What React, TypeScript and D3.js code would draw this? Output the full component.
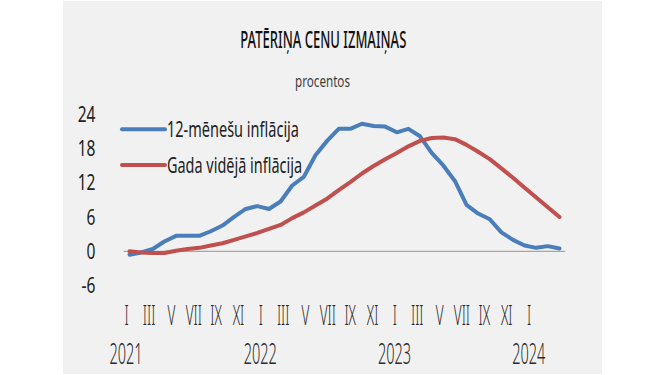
import React from 'react';
import * as d3 from 'd3';

const title = 'PATĒRIŅA CENU IZMAIŅAS';
const subtitle = 'procentos';
const seriesNames = ['12-mēnešu inflācija', 'Gada vidējā inflācija'];

const periods = [
  '2021-01', '2021-02', '2021-03', '2021-04', '2021-05', '2021-06', '2021-07', '2021-08', '2021-09', '2021-10', '2021-11', '2021-12',
  '2022-01', '2022-02', '2022-03', '2022-04', '2022-05', '2022-06', '2022-07', '2022-08', '2022-09', '2022-10', '2022-11', '2022-12',
  '2023-01', '2023-02', '2023-03', '2023-04', '2023-05', '2023-06', '2023-07', '2023-08', '2023-09', '2023-10', '2023-11', '2023-12',
  '2024-01', '2024-02',
];

const inflation12m = [
  -0.6, -0.2, 0.4, 1.7, 2.7, 2.7, 2.7, 3.5, 4.5, 6.0, 7.4, 7.9,
  7.4, 8.7, 11.5, 13.0, 16.8, 19.3, 21.4, 21.4, 22.3, 21.9, 21.8, 20.8,
  21.4, 20.1, 17.2, 15.0, 12.3, 8.1, 6.6, 5.6, 3.3, 2.0, 1.0, 0.6,
  0.9, 0.5,
];

const annualAverage = [
  0.0, -0.2, -0.3, -0.3, 0.1, 0.4, 0.6, 1.0, 1.4, 2.0, 2.6, 3.2,
  3.9, 4.6, 5.8, 6.8, 8.0, 9.2, 10.7, 12.1, 13.6, 14.9, 16.1, 17.2,
  18.35, 19.3, 19.8, 19.9, 19.6, 18.6, 17.4, 16.1, 14.5, 12.85, 11.1, 9.4,
  7.7, 6.0,
];

const yTicks = [-6, 0, 6, 12, 18, 24];
const monthLabels = [
  'I', 'III', 'V', 'VII', 'IX', 'XI',
  'I', 'III', 'V', 'VII', 'IX', 'XI',
  'I', 'III', 'V', 'VII', 'IX', 'XI',
  'I',
];
const yearLabels = ['2021', '2022', '2023', '2024'];

const BLUE = '#4a7ebb';
const RED = '#c0504d';
const FONT = "'Noto Sans', 'DejaVu Sans', sans-serif";

export default function App() {
  const W = 665;
  const H = 375;

  const x = d3.scaleBand<string>().domain(periods).range([123.7, 565.3]).padding(0);
  const cx = (p: string) => (x(p) as number) + x.bandwidth() / 2;
  const y = d3.scaleLinear().domain([-6, 24]).range([285.6, 114]);

  const labelScale = d3.scalePoint<number>()
    .domain(monthLabels.map((_, i) => i))
    .range([126.7, 529]);
  const yearScale = d3.scalePoint<string>().domain(yearLabels).range([126, 528.8]);

  const line = d3.line<number>()
    .x((_, i) => cx(periods[i]))
    .y((v) => y(v));

  const series = [
    { name: seriesNames[0], values: inflation12m, color: BLUE },
    { name: seriesNames[1], values: annualAverage, color: RED },
  ];

  return (
    <svg
      width={W}
      height={H}
      viewBox={`0 0 ${W} ${H}`}
      style={{ position: 'absolute', left: 0, top: 0, display: 'block' }}
      fontFamily={FONT}
    >
      <rect x={0} y={0} width={W} height={H} fill="#ffffff" />
      <rect x={63} y={1} width={539} height={373} fill="#f1f1f1" />

      <text x={323.3} y={48.3} textAnchor="middle" fontSize={23} fontWeight={500} fill="#111111"
        textLength={166} lengthAdjust="spacingAndGlyphs">{title}</text>
      <text x={322.5} y={87.3} textAnchor="middle" fontSize={16} fill="#404040"
        textLength={55} lengthAdjust="spacingAndGlyphs">{subtitle}</text>

      {yTicks.map((t) => (
        <text key={t} transform={`translate(95.5,${y(t)}) scale(0.74,1)`} dy="0.36em"
          textAnchor="end" fontSize={21} fill="#222222">{t}</text>
      ))}

      <line x1={x.range()[0]} x2={x.range()[1]} y1={y(0)} y2={y(0)} stroke="#a6a6a6" strokeWidth={1.2} />

      {series.map((s) => (
        <path key={s.name} d={line(s.values) || ''} fill="none" stroke={s.color}
          strokeWidth={4} strokeLinejoin="round" strokeLinecap="round" />
      ))}

      {series.map((s, k) => {
        const ly = k === 0 ? 129.3 : 165;
        return (
          <g key={s.name}>
            <line x1={122} x2={165} y1={ly} y2={ly} stroke={s.color} strokeWidth={4} strokeLinecap="round" />
            <text x={167} y={ly + 8} fontSize={22} fill="#222222"
              textLength={k === 0 ? 132 : 135} lengthAdjust="spacingAndGlyphs">{s.name}</text>
          </g>
        );
      })}

      {monthLabels.map((m, i) => (
        <text key={i} transform={`translate(${labelScale(i)},325) scale(0.48,1)`}
          textAnchor="middle" fontSize={28} fontWeight={300} fill="#2a2a2a">{m}</text>
      ))}
      {yearLabels.map((yl) => (
        <text key={yl} transform={`translate(${yearScale(yl)},364) scale(0.5,1)`}
          textAnchor="middle" fontSize={29} fontWeight={300} fill="#2a2a2a">{yl}</text>
      ))}
    </svg>
  );
}
